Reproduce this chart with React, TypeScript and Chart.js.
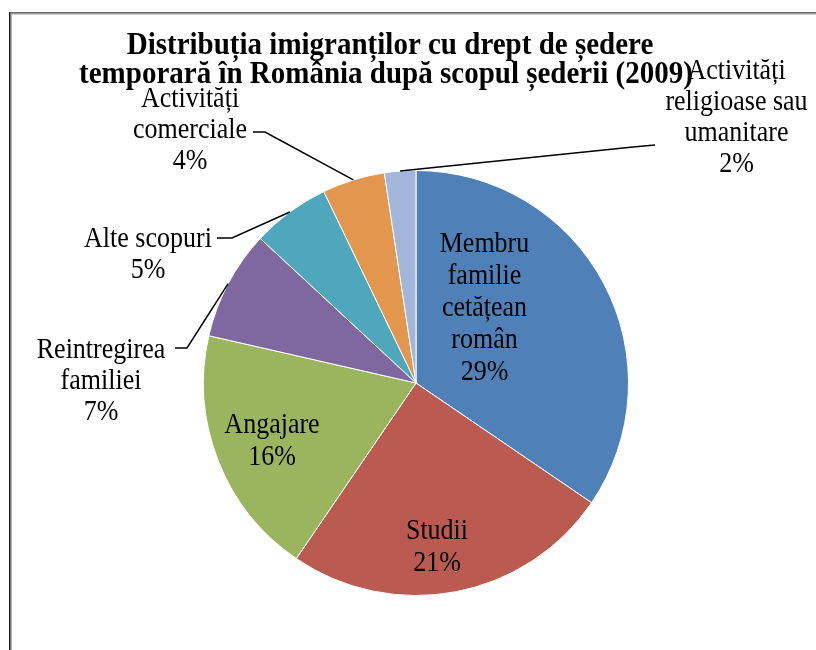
import React, { useEffect, useRef } from "react";
import { Chart, registerables } from "chart.js";

Chart.register(...registerables);

const categories = [
  "Membru familie cetățean român",
  "Studii",
  "Angajare",
  "Reintregirea familiei",
  "Alte scopuri",
  "Activități comerciale",
  "Activități religioase sau umanitare",
];
const values = [29, 21, 16, 7, 5, 4, 2];
const percentLabels = ["29%", "21%", "16%", "7%", "5%", "4%", "2%"];
const labelLines = [
  ["Membru", "familie", "cetățean", "român"],
  ["Studii"],
  ["Angajare"],
  ["Reintregirea", "familiei"],
  ["Alte scopuri"],
  ["Activități", "comerciale"],
  ["Activități", "religioase sau", "umanitare"],
];
const colors = ["#4F80B8", "#BB5A50", "#9BB55E", "#7F67A0", "#4FA7BE", "#E2964E", "#A3B5D9"];
const titleLines = [
  "Distribuția imigranților cu drept de ședere",
  "temporară în România după scopul șederii (2009)",
];

// label layout relative to pie centre (px): block centre, optional leader end + elbow
const labelLayout = [
  { dx: 68.5, dy: -75 },
  { dx: 21, dy: 164 },
  { dx: -144, dy: 58 },
  { dx: -315, dy: -2, end: [-241, -35], elbow: [-229, -35] },
  { dx: -268, dy: -128.5, end: [-199, -145], elbow: [-184, -145] },
  { dx: -226, dy: -253, end: [-163, -251], elbow: [-151, -251] },
  { dx: 320.5, dy: -265.5, end: [239, -238], elbow: [217, -236] },
];

const FONT = '"Liberation Serif", "Times New Roman", serif';
const STRETCH = 1.1;

function stretchedText(ctx: CanvasRenderingContext2D, t: string, x: number, y: number) {
  ctx.save();
  ctx.translate(x, y);
  ctx.scale(1, STRETCH);
  ctx.fillText(t, 0, 0);
  ctx.restore();
}

const decorPlugin = {
  id: "decor",
  beforeDraw(chart: any) {
    const ctx = chart.ctx;
    ctx.save();
    ctx.fillStyle = "#fff";
    ctx.fillRect(0, 0, chart.width, chart.height);
    // frame
    ctx.fillStyle = "#1a1a1a";
    ctx.fillRect(9, 12, 1, chart.height - 12);
    ctx.fillStyle = "#7a7a7a";
    ctx.fillRect(10, 12, 1, chart.height - 12);
    ctx.fillStyle = "#b0b0b0";
    ctx.fillRect(11, 12, 1, chart.height - 12);
    ctx.fillStyle = "#6a6a6a";
    ctx.fillRect(10, 12, chart.width - 10, 1);
    ctx.fillStyle = "#9a9a9a";
    ctx.fillRect(11, 13, chart.width - 11, 1);
    ctx.fillStyle = "#d0d0d0";
    ctx.fillRect(12, 14, chart.width - 12, 1);
    ctx.restore();
  },
  afterDatasetsDraw(chart: any) {
    const ctx = chart.ctx;
    const meta = chart.getDatasetMeta(0);
    ctx.save();
    ctx.fillStyle = "#000";
    ctx.font = `26px ${FONT}`;
    ctx.textAlign = "center";
    ctx.textBaseline = "middle";
    meta.data.forEach((arc: any, i: number) => {
      const { x, y, startAngle, endAngle, outerRadius } = arc.getProps(
        ["x", "y", "startAngle", "endAngle", "outerRadius"],
        true
      );
      const lay = labelLayout[i];
      const lines = [...labelLines[i], percentLabels[i]];
      const lh = i < 3 ? 32 : 31;
      const cx = x + lay.dx;
      const cy = y + lay.dy;
      const top = cy - ((lines.length - 1) * lh) / 2;
      lines.forEach((t, k) => stretchedText(ctx, t, cx, top + k * lh));
      if (lay.end) {
        const mid = (startAngle + endAngle) / 2;
        const px = x + Math.cos(mid) * outerRadius;
        const py = y + Math.sin(mid) * outerRadius;
        ctx.beginPath();
        ctx.strokeStyle = "#000";
        ctx.lineWidth = 1.5;
        ctx.moveTo(px, py);
        ctx.lineTo(x + lay.elbow![0], y + lay.elbow![1]);
        ctx.lineTo(x + lay.end[0], y + lay.end[1]);
        ctx.stroke();
      }
    });
    // title
    ctx.font = `bold 29px ${FONT}`;
    ctx.textBaseline = "alphabetic";
    stretchedText(ctx, titleLines[0], 390, 54);
    stretchedText(ctx, titleLines[1], 386, 83);
    ctx.restore();
  },
};

export default function App() {
  const ref = useRef<HTMLCanvasElement>(null);
  useEffect(() => {
    document.body.style.margin = "0";
    const chart = new Chart(ref.current!, {
      type: "pie",
      data: {
        labels: categories,
        datasets: [
          {
            data: values,
            backgroundColor: colors,
            borderColor: "#ffffff",
            borderWidth: 1,
          },
        ],
      },
      options: {
        responsive: false,
        animation: false,
        layout: { padding: { top: 170, bottom: 54, left: 203, right: 187 } },
        plugins: { legend: { display: false }, tooltip: { enabled: false }, title: { display: false } },
      },
      plugins: [decorPlugin],
    });
    return () => chart.destroy();
  }, []);
  return (
    <div style={{ width: 816, height: 650 }}>
      <canvas ref={ref} width={816} height={650} style={{ display: "block" }} />
    </div>
  );
}
